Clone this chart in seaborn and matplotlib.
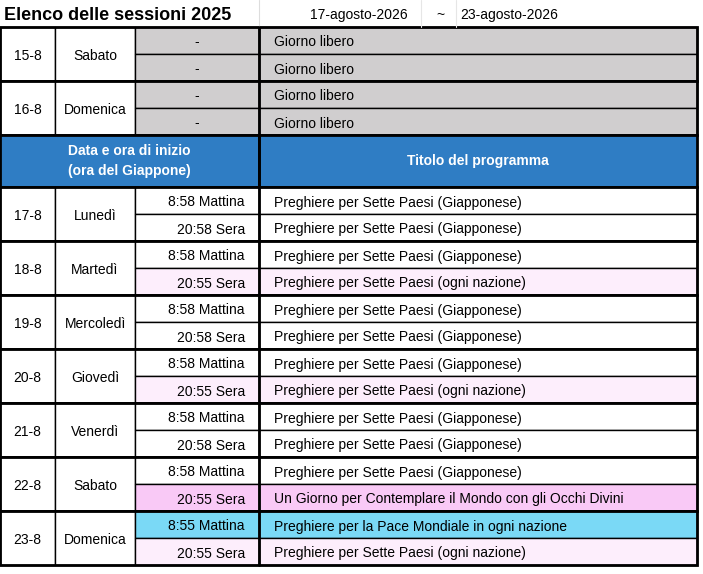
import matplotlib
matplotlib.use("Agg")
import matplotlib.pyplot as plt
import seaborn as sns
from matplotlib.patches import Rectangle

sns.set_theme(style="white")
plt.rcParams['font.family'] = ['Liberation Sans', 'DejaVu Sans']
plt.rcParams['text.color'] = 'black'

TITLE = "Elenco delle sessioni 2025"
DATE_FROM = "17-agosto-2026"
DATE_TO = "23-agosto-2026"
HEADER_LEFT = "Data e ora di inizio\n(ora del Giappone)"
HEADER_RIGHT = "Titolo del programma"

free_dates = ["15-8", "16-8"]
free_days = ["Sabato", "Domenica"]

dates = ["17-8", "18-8", "19-8", "20-8", "21-8", "22-8", "23-8"]
days = ["Lunedì", "Martedì", "Mercoledì", "Giovedì", "Venerdì", "Sabato", "Domenica"]
times = [["8:58 Mattina", "20:58 Sera"], ["8:58 Mattina", "20:55 Sera"],
         ["8:58 Mattina", "20:58 Sera"], ["8:58 Mattina", "20:55 Sera"],
         ["8:58 Mattina", "20:58 Sera"], ["8:58 Mattina", "20:55 Sera"],
         ["8:55 Mattina", "20:55 Sera"]]
GJ = "Preghiere per Sette Paesi (Giapponese)"
ON = "Preghiere per Sette Paesi (ogni nazione)"
titles = [[GJ, GJ], [GJ, ON], [GJ, GJ], [GJ, ON], [GJ, GJ],
          [GJ, "Un Giorno per Contemplare il Mondo con gli Occhi Divini"],
          ["Preghiere per la Pace Mondiale in ogni nazione", ON]]
fills = [["white", "white"], ["white", "#fdeefc"], ["white", "white"],
         ["white", "#fdeefc"], ["white", "white"], ["white", "#f9c9f6"],
         ["#7ad9f6", "#fdeefc"]]

GRAY = "#d0cecf"
BLUE = "#2f7dc4"
X = [0, 55, 135, 259, 697]
RH = 27
FS = 10
DY = 2  # text sits a little low in the cells

fig = plt.figure(figsize=(7.03, 5.74), dpi=100)
ax = fig.add_axes([0, 0, 1, 1])
ax.set_xlim(0, 703)
ax.set_ylim(574, 0)
ax.axis("off")


def rect(x0, y0, x1, y1, fc, lw=1.0):
    ax.add_patch(Rectangle((x0, y0), x1 - x0, y1 - y0, facecolor=fc,
                           edgecolor="black", linewidth=lw))


# title row
ax.text(4, 15, TITLE, fontsize=13, fontweight="bold", va="center")
ax.text(408, 15, DATE_FROM, fontsize=FS, va="center", ha="right")
ax.text(440, 15, "~", fontsize=FS, va="center", ha="center")
ax.text(460, 15, DATE_TO, fontsize=FS, va="center")
for xv, c in [(259, "#dddddd"), (421, "#e6e6e6"), (456, "#e6e6e6")]:
    ax.plot([xv, xv], [0, 27], color=c, lw=0.8)

# free days
y = 27
for d, wd in zip(free_dates, free_days):
    rect(X[0], y, X[1], y + 2 * RH, "white")
    rect(X[1], y, X[2], y + 2 * RH, "white")
    ax.text((X[0] + X[1]) / 2, y + RH + DY, d, fontsize=FS, ha="center", va="center")
    ax.text((X[1] + X[2]) / 2, y + RH + DY, wd, fontsize=FS, ha="center", va="center")
    for k in range(2):
        yy = y + k * RH
        rect(X[2], yy, X[3], yy + RH, GRAY)
        rect(X[3], yy, X[4], yy + RH, GRAY)
        ax.text((X[2] + X[3]) / 2, yy + RH / 2 + DY, "-", fontsize=FS, ha="center", va="center")
        ax.text(X[3] + 15, yy + RH / 2 + DY, "Giorno libero", fontsize=FS, va="center")
    rect(X[0], y, X[4], y + 2 * RH, "none", lw=2)
    y += 2 * RH

# header
hy0, hy1 = y, y + 52
rect(X[0], hy0, X[3], hy1, BLUE, lw=2)
rect(X[3], hy0, X[4], hy1, BLUE, lw=2)
ax.text((X[0] + X[3]) / 2, (hy0 + hy1) / 2, HEADER_LEFT, fontsize=FS, color="white",
        fontweight="bold", ha="center", va="center", linespacing=1.5)
ax.text((X[3] + X[4]) / 2, (hy0 + hy1) / 2, HEADER_RIGHT, fontsize=FS, color="white",
        fontweight="bold", ha="center", va="center")
y = hy1

# schedule
for d, wd, tm, tt, fc in zip(dates, days, times, titles, fills):
    rect(X[0], y, X[1], y + 2 * RH, "white")
    rect(X[1], y, X[2], y + 2 * RH, "white")
    ax.text((X[0] + X[1]) / 2, y + RH + DY, d, fontsize=FS, ha="center", va="center")
    ax.text((X[1] + X[2]) / 2, y + RH + DY, wd, fontsize=FS, ha="center", va="center")
    for k in range(2):
        yy = y + k * RH
        rect(X[2], yy, X[3], yy + RH, fc[k])
        rect(X[3], yy, X[4], yy + RH, fc[k])
        ax.text(X[3] - 14, yy + RH / 2 + DY, tm[k], fontsize=FS, ha="right", va="center")
        ax.text(X[3] + 15, yy + RH / 2 + DY, tt[k], fontsize=FS, va="center")
    rect(X[0], y, X[4], y + 2 * RH, "none", lw=2)
    y += 2 * RH

ax.plot([X[3], X[3]], [27, y], color="black", lw=2)

fig.savefig("out.png", dpi=100)
